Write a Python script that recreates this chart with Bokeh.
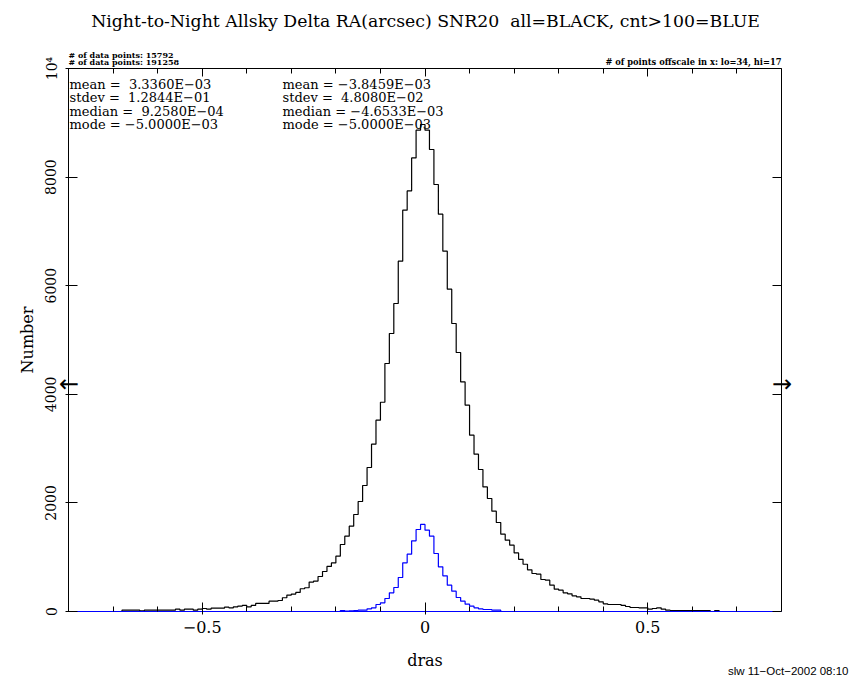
import numpy as np
from bokeh.plotting import figure
from bokeh.models import Range1d, LinearAxis, FixedTicker, Label, CustomJSTickFormatter
from bokeh.embed import file_html
from bokeh.resources import INLINE

# ---------------- data ----------------
title_text = "Night-to-Night Allsky Delta RA(arcsec) SNR20\u00a0\u00a0all=BLACK, cnt>100=BLUE"
x_label = "dras"
y_label = "Number"
footer_text = "slw 11\u2212Oct\u22122002 08:10"

bin_width = 0.01

# all points (black), bins starting at -0.70
all_first_edge = -0.70
all_counts = [
    0, 0, 25, 25, 25, 25, 12, 25, 25, 25,
    25, 25, 25, 25, 43, 25, 43, 43, 25, 43,
    55, 43, 62, 62, 62, 80, 68, 86, 99, 111,
    86, 111, 148, 148, 148, 191, 191, 203, 253, 302,
    320, 351, 419, 437, 542, 561, 645, 737, 830, 895,
    1018, 1234, 1387, 1571, 1786, 2026, 2320, 2652, 3081, 3523,
    3854, 4567, 5120, 5672, 6451, 7390, 7746, 8354, 8864, 8969,
    8864, 8508, 7864, 7317, 6635, 5936, 5304, 4770, 4228, 3799,
    3247, 2897, 2615, 2295, 2081, 1847, 1639, 1424, 1313, 1221,
    1079, 960, 870, 768, 700, 688, 589, 577, 485, 411,
    393, 344, 325, 289, 270, 239, 239, 227, 209, 178,
    141, 129, 129, 129, 111, 92, 74, 74, 68, 68,
    43, 55, 68, 43, 25, 18, 18, 18, 18, 18,
    18, 18, 18, 18, 0, 18, 0, 0, 0, 0,
]

# cnt>100 points (blue), bins starting at -0.20
bright_first_edge = -0.20
bright_counts = [
    0, 18, 6, 12, 18, 25, 25, 49, 68, 129,
    160, 239, 344, 442, 626, 896, 1056, 1302, 1510, 1603,
    1498, 1388, 1068, 823, 657, 485, 375, 258, 190, 135,
    98, 68, 49, 37, 37, 25, 25, 0,
]

x_range_lo, x_range_hi = -0.8, 0.8
y_range_lo, y_range_hi = 0, 10000
x_major_ticks = [-0.5, 0.0, 0.5]
x_minor_ticks = [-0.7, -0.6, -0.4, -0.3, -0.2, -0.1, 0.1, 0.2, 0.3, 0.4, 0.6, 0.7]
x_tick_labels = {-0.5: "\u22120.5", 0: "0", 0.5: "0.5"}
y_major_ticks = [0, 2000, 4000, 6000, 8000, 10000]
y_tick_labels = {10000: "10\u2074"}

npoints_bright = 15792
npoints_all = 191258
offscale_lo, offscale_hi = 34, 17
offscale_marker_level = 4190

stats_all = [("mean", " 3.3360E\u221203"), ("stdev", " 1.2844E\u221201"),
             ("median", " 9.2580E\u221204"), ("mode", "\u22125.0000E\u221203")]
stats_bright = [("mean", "\u22123.8459E\u221203"), ("stdev", " 4.8080E\u221202"),
                ("median", "\u22124.6533E\u221203"), ("mode", "\u22125.0000E\u221203")]

# ---------------- figure ----------------
W, H = 850, 680
FL, FR, FT, FB = 68.0, 781.0, 68.0, 611.0   # frame edges in canvas pixels

p = figure(width=W, height=H, output_backend="svg", toolbar_location=None,
           x_range=Range1d(x_range_lo, x_range_hi), y_range=Range1d(y_range_lo, y_range_hi),
           min_border_left=int(FL), min_border_right=int(W - FR),
           min_border_top=int(FT), min_border_bottom=int(H - FB),
           title=None)
p.xgrid.visible = False
p.ygrid.visible = False
p.outline_line_color = None
p.background_fill_color = "white"
p.border_fill_color = "white"

SERIF = "DejaVu Serif"


def dx(px):
    return x_range_lo + (px - FL) * (x_range_hi - x_range_lo) / (FR - FL)


def dy(py):
    return y_range_lo + (FB - py) * (y_range_hi - y_range_lo) / (FB - FT)


def outline(first_edge, counts, extend=False):
    n = len(counts)
    edges = first_edge + bin_width * np.arange(n + 1)
    xs = np.repeat(edges, 2)
    ys = np.concatenate([[0], np.repeat(np.asarray(counts, float), 2), [0]])
    if extend:
        xs = np.concatenate([[x_range_lo], xs, [x_range_hi]])
        ys = np.concatenate([[0], ys, [0]])
    return xs, ys


xa, ya = outline(all_first_edge, all_counts)
p.line(xa, ya, line_color="black", line_width=1.2)
xb, yb = outline(bright_first_edge, bright_counts, extend=True)
p.line(xb, yb, line_color="#0000ff", line_width=1.2)

# ---------------- axes ----------------
xt = FixedTicker(ticks=x_major_ticks, minor_ticks=x_minor_ticks)
yt = FixedTicker(ticks=y_major_ticks, minor_ticks=[])

for ax in (p.below[0], p.left[0]):
    ax.axis_line_color = "black"
    ax.major_tick_line_color = "black"
    ax.minor_tick_line_color = "black"
    ax.major_label_text_color = "black"
    ax.axis_label_text_color = "black"
    ax.major_label_text_font = SERIF
    ax.axis_label_text_font = SERIF
    ax.axis_label_text_font_style = "normal"
    ax.axis_label_text_font_size = "16px"

bx = p.below[0]
bx.ticker = xt
bx.major_label_overrides = x_tick_labels
bx.axis_line_color = "#0000ff"
bx.major_tick_in = 9
bx.major_tick_out = 3
bx.minor_tick_in = 5
bx.minor_tick_out = 0
bx.major_label_standoff = 6
bx.major_label_text_font_size = "16px"
bx.axis_label = x_label
bx.axis_label_standoff = 15

ly = p.left[0]
ly.ticker = yt
ly.major_label_overrides = y_tick_labels
ly.major_tick_in = 9
ly.major_tick_out = 3
ly.minor_tick_in = 0
ly.minor_tick_out = 0
ly.major_label_orientation = "vertical"
ly.major_label_standoff = 6
ly.major_label_text_font_size = "14px"
ly.axis_label = y_label
ly.axis_label_standoff = 4

blank = CustomJSTickFormatter(code="return ''")
top = LinearAxis(ticker=xt, formatter=blank, major_tick_in=8, major_tick_out=0,
                 minor_tick_in=5, minor_tick_out=0, major_label_standoff=0,
                 axis_line_color="black", major_tick_line_color="black",
                 minor_tick_line_color="black")
p.add_layout(top, "above")
right = LinearAxis(ticker=yt, formatter=blank, major_tick_in=9, major_tick_out=0,
                   minor_tick_in=0, minor_tick_out=0, major_label_standoff=0,
                   axis_line_color="black", major_tick_line_color="black")
p.add_layout(right, "right")


# ---------------- texts ----------------
def make_text(txt, px, py, size, align="left", style="normal", font=SERIF,
              baseline="alphabetic", y_value=None, y_offset=0):
    return Label(x=dx(px), y=dy(py) if y_value is None else y_value, text=txt, text_font=font,
                 text_font_size=f"{size}px", text_align=align, y_offset=y_offset,
                 text_baseline=baseline, text_font_style=style,
                 text_color="black")


# texts outside the frame live in side panels (not clipped to the frame)
outside_top = [
    make_text(title_text, 425, 20.5, 17.3, align="center"),
    make_text(f"# of data points: {npoints_bright}", 68, 54.5, 8, style="bold"),
    make_text(f"# of data points: {npoints_all}", 68, 61.5, 8, style="bold"),
    make_text(f"# of points offscale in x: lo={offscale_lo}, hi={offscale_hi}", 781, 61.5, 8.3,
              align="right", style="bold"),
    make_text(footer_text, 848, 670, 11.5, align="right", font="Liberation Sans"),
]
for lab in outside_top:
    p.add_layout(lab, "above")

# offscale markers crossing the frame edges
outside_right = [
    make_text("\u2190", 68.5, 0, 24, align="center", font="DejaVu Sans",
              baseline="middle", y_value=offscale_marker_level, y_offset=0),
    make_text("\u2192", 781.5, 0, 24, align="center", font="DejaVu Sans",
              baseline="middle", y_value=offscale_marker_level, y_offset=0),
]
for lab in outside_right:
    p.add_layout(lab, "right")

row_y = [83.5, 97.0, 110.5, 124.0]
for (name, val), yy in zip(stats_all, row_y):
    p.add_layout(make_text(f"{name} = {val}".replace(" ", "\u00a0"), 69, yy, 13))
for (name, val), yy in zip(stats_bright, row_y):
    p.add_layout(make_text(f"{name} = {val}".replace(" ", "\u00a0"), 282, yy, 13))

open("out.html", "w").write(file_html(p, INLINE))
